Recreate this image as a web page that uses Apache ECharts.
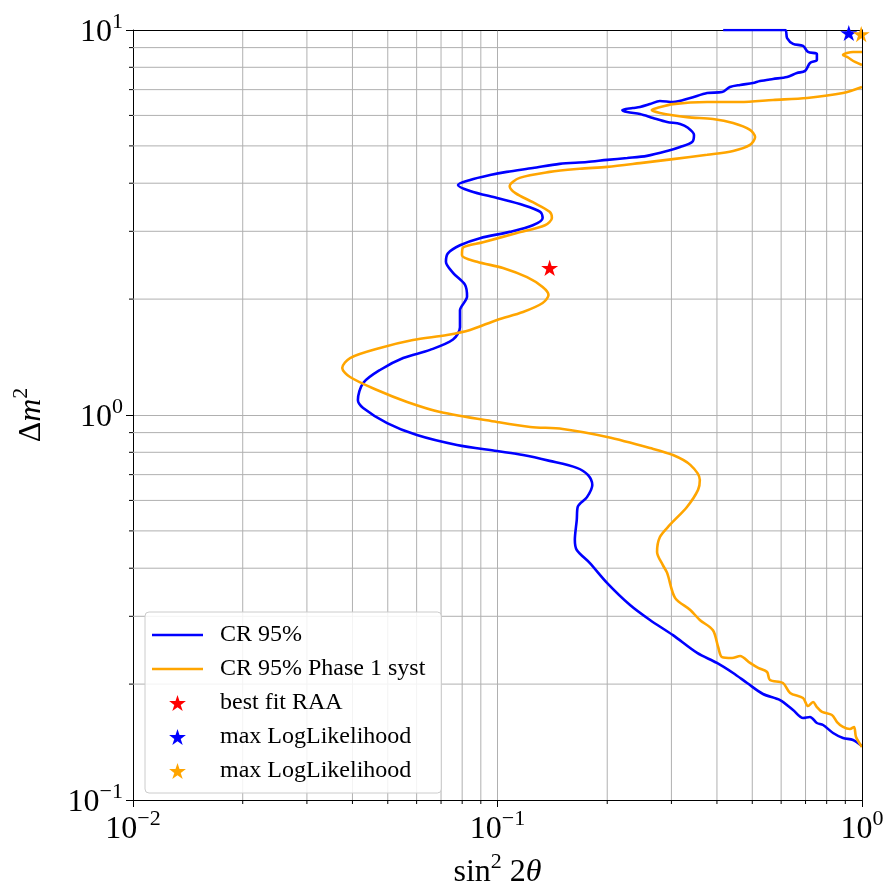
<!DOCTYPE html>
<html><head><meta charset="utf-8">
<script src="https://cdn.jsdelivr.net/npm/echarts@6/dist/echarts.min.js"></script>
<style>html,body{margin:0;padding:0;background:#fff}#c{width:889px;height:881px}</style>
</head><body><div id="c"></div>
<script>
// ---- data (sin^2 2theta, delta m^2) ----
const blueCR = [
[0.416,10],[0.615,10],[0.623,9.53],[0.647,9.20],[0.689,9.09],[0.711,8.77],[0.752,8.66],[0.752,8.36],[0.720,8.21],[0.698,7.83],[0.663,7.73],[0.623,7.55],[0.570,7.46],[0.525,7.37],[0.502,7.28],[0.463,7.20],[0.434,7.11],[0.413,6.90],[0.376,6.86],[0.338,6.66],[0.303,6.50],[0.279,6.54],[0.262,6.42],[0.246,6.31],[0.235,6.27],[0.220,6.20],[0.227,6.12],[0.246,6.05],[0.267,5.91],[0.292,5.77],[0.317,5.70],[0.333,5.57],[0.346,5.34],[0.342,5.12],[0.317,4.97],[0.292,4.85],[0.257,4.71],[0.227,4.65],[0.200,4.60],[0.176,4.54],[0.148,4.49],[0.125,4.38],[0.106,4.28],[0.0954,4.20],[0.0841,4.08],[0.0779,3.96],[0.0841,3.82],[0.0997,3.66],[0.1175,3.51],[0.131,3.37],[0.133,3.25],[0.125,3.11],[0.108,2.99],[0.0895,2.88],[0.0789,2.76],[0.0731,2.63],[0.0722,2.50],[0.0755,2.34],[0.0814,2.18],[0.0825,2.03],[0.0789,1.87],[0.0789,1.69],[0.0755,1.57],[0.0653,1.476],[0.0551,1.406],[0.0476,1.309],[0.0428,1.211],[0.0414,1.094],[0.0428,1.043],[0.0498,0.953],[0.0601,0.887],[0.0774,0.836],[0.0997,0.806],[0.1175,0.787],[0.139,0.760],[0.165,0.729],[0.177,0.699],[0.182,0.658],[0.176,0.612],[0.166,0.577],[0.165,0.534],[0.163,0.474],[0.165,0.446],[0.179,0.413],[0.200,0.366],[0.231,0.321],[0.262,0.2935],[0.303,0.268],[0.353,0.241],[0.400,0.227],[0.443,0.2137],[0.484,0.2013],[0.535,0.1885],[0.596,0.1818],[0.647,0.1713],[0.689,0.1633],[0.720,0.1643],[0.752,0.1585],[0.782,0.1566],[0.833,0.1493],[0.887,0.1449],[0.945,0.1432],[1.0,0.1381]
];
const orangeCR = [
[1.0,7.11],[0.887,6.86],[0.707,6.66],[0.570,6.58],[0.463,6.50],[0.376,6.50],[0.303,6.42],[0.274,6.27],[0.265,6.20],[0.279,6.09],[0.331,5.94],[0.390,5.87],[0.443,5.73],[0.493,5.50],[0.509,5.27],[0.493,5.03],[0.443,4.85],[0.376,4.74],[0.303,4.62],[0.246,4.51],[0.200,4.41],[0.168,4.36],[0.139,4.28],[0.115,4.13],[0.108,3.93],[0.112,3.77],[0.125,3.57],[0.139,3.37],[0.141,3.25],[0.135,3.11],[0.113,2.97],[0.0913,2.81],[0.0804,2.72],[0.0799,2.60],[0.0879,2.50],[0.1035,2.41],[0.1205,2.28],[0.133,2.15],[0.138,2.05],[0.133,1.954],[0.1175,1.852],[0.0997,1.766],[0.0841,1.663],[0.0727,1.614],[0.0586,1.566],[0.0476,1.493],[0.0394,1.406],[0.0375,1.325],[0.0394,1.255],[0.0467,1.161],[0.0565,1.081],[0.0696,1.018],[0.0997,0.959],[0.123,0.931],[0.151,0.920],[0.200,0.877],[0.262,0.821],[0.303,0.787],[0.338,0.742],[0.359,0.678],[0.355,0.639],[0.331,0.577],[0.297,0.518],[0.279,0.482],[0.274,0.441],[0.284,0.408],[0.292,0.389],[0.307,0.335],[0.338,0.3115],[0.359,0.2935],[0.390,0.276],[0.403,0.2497],[0.413,0.235],[0.440,0.2338],[0.463,0.2366],[0.493,0.227],[0.519,0.2203],[0.549,0.215],[0.559,0.205],[0.607,0.2013],[0.635,0.1897],[0.689,0.184],[0.711,0.1754],[0.734,0.1797],[0.752,0.1744],[0.777,0.1693],[0.827,0.1663],[0.854,0.1594],[0.887,0.1548],[0.927,0.1529],[0.951,0.1548],[0.963,0.1458],[1.0,0.1373]
];
const orangeCRTop = [[1.0,8.77],[0.945,8.77],[0.887,8.61],[0.910,8.51],[0.957,8.26],[1.0,8.11]];
const bestFitRAA = [[0.139,2.41]];
const maxLLBlue = [[0.92,9.82]];
const maxLLOrange = [[0.995,9.76]];
const seriesNames = ['CR 95%','CR 95% Phase 1 syst','best fit RAA','max LogLikelihood','max LogLikelihood\u200b'];
const xMinor = [0.02,0.03,0.04,0.05,0.06,0.07,0.08,0.09,0.2,0.3,0.4,0.5,0.6,0.7,0.8,0.9];
const yMinor = [0.2,0.3,0.4,0.5,0.6,0.7,0.8,0.9,2,3,4,5,6,7,8,9];
const xRange = [0.01, 1];
const yRange = [0.1, 10];

// ---- styles ----
const FONT = 'Liberation Serif';
const STAR = 'path://M0,-1L0.2245,-0.309L0.951,-0.309L0.363,0.118L0.588,0.809L0,0.382L-0.588,0.809L-0.363,0.118L-0.951,-0.309L-0.2245,-0.309Z';
const LINE_ICON = 'path://M0,0L51,0L51,2.6L0,2.6Z';
const GRID = '#b0b0b0';
const LW = 2.6;

function pow10Label(v){
  const e = Math.round(Math.log10(v));
  return '{b|10}{s|' + (e < 0 ? '\u2212' + (-e) : String(e)) + '}';
}
const tickRich = {
  b:{fontFamily:FONT,fontSize:32,lineHeight:38,verticalAlign:'bottom',color:'#000'},
  s:{fontFamily:FONT,fontSize:22,lineHeight:22,verticalAlign:'top',color:'#000'}
};
const nameRich = {
  n:{fontFamily:FONT,fontSize:32,lineHeight:38,verticalAlign:'bottom',color:'#000'},
  i:{fontFamily:FONT,fontStyle:'italic',fontSize:32,lineHeight:38,verticalAlign:'bottom',color:'#000'},
  s:{fontFamily:FONT,fontSize:22,lineHeight:22,verticalAlign:'top',color:'#000'}
};

function minorXItem(params, api){
  const v = api.value(0);
  const t = api.coord([v, yRange[1]]), b = api.coord([v, yRange[0]]);
  return {type:'group',children:[
    {type:'line',shape:{x1:t[0],y1:t[1],x2:b[0],y2:b[1]},style:{stroke:GRID,lineWidth:1}},
    {type:'line',shape:{x1:b[0],y1:b[1],x2:b[0],y2:b[1]+4},style:{stroke:'#000',lineWidth:1}}
  ]};
}
function minorYItem(params, api){
  const v = api.value(1);
  const l = api.coord([xRange[0], v]), r = api.coord([xRange[1], v]);
  return {type:'group',children:[
    {type:'line',shape:{x1:l[0],y1:l[1],x2:r[0],y2:r[1]},style:{stroke:GRID,lineWidth:1}},
    {type:'line',shape:{x1:l[0]-4,y1:l[1],x2:l[0],y2:l[1]},style:{stroke:'#000',lineWidth:1}}
  ]};
}

const chart = echarts.init(document.getElementById('c'), null, {renderer:'canvas'});
chart.setOption({
  animation:false,
  backgroundColor:'#fff',
  grid:{left:133,right:27,top:30,bottom:81,containLabel:false,outerBoundsMode:'none'},
  xAxis:[{
    type:'log',logBase:10,min:xRange[0],max:xRange[1],
    name:'{n|sin}{s|2}{n| 2}{i|\u03b8}',nameLocation:'middle',nameGap:40,
    nameTextStyle:{rich:nameRich},
    axisLine:{show:true,lineStyle:{color:'#000',width:1}},
    axisTick:{show:true,inside:false,length:7,lineStyle:{color:'#000'}},
    axisLabel:{formatter:pow10Label,rich:tickRich,margin:8},
    splitLine:{show:true,lineStyle:{color:GRID,width:1}},
    minorTick:{show:false},minorSplitLine:{show:false}
  },{
    type:'log',logBase:10,min:xRange[0],max:xRange[1],position:'top',z:2,
    axisLine:{show:true,onZero:false,lineStyle:{color:'#000',width:1}},
    axisTick:{show:false},axisLabel:{show:false},splitLine:{show:false}
  }],
  yAxis:[{
    type:'log',logBase:10,min:yRange[0],max:yRange[1],
    name:'{n|\u0394}{i|m}{s|2}',nameLocation:'middle',nameGap:85,nameRotate:90,
    nameTextStyle:{rich:nameRich},
    axisLine:{show:true,lineStyle:{color:'#000',width:1}},
    axisTick:{show:true,inside:false,length:7,lineStyle:{color:'#000'}},
    axisLabel:{formatter:pow10Label,rich:tickRich,margin:10},
    splitLine:{show:true,lineStyle:{color:GRID,width:1}},
    minorTick:{show:false},minorSplitLine:{show:false}
  },{
    type:'log',logBase:10,min:yRange[0],max:yRange[1],position:'right',z:5,
    axisLine:{show:true,onZero:false,lineStyle:{color:'#000',width:1}},
    axisTick:{show:false},axisLabel:{show:false},splitLine:{show:false}
  }],
  legend:{
    orient:'vertical',left:145,top:612,
    padding:[11,16,10,7],itemGap:10,itemWidth:51,itemHeight:16,
    backgroundColor:'rgba(255,255,255,0.85)',borderColor:'#cccccc',borderWidth:1,borderRadius:4,
    textStyle:{fontFamily:FONT,fontSize:24,color:'#000',lineHeight:20,padding:[0,0,0,12]},
    data:[
      {name:seriesNames[0],icon:LINE_ICON},
      {name:seriesNames[1],icon:LINE_ICON},
      {name:seriesNames[2]},
      {name:seriesNames[3]},
      {name:seriesNames[4]}
    ]
  },
  series:[
    {type:'custom',name:'minorX',coordinateSystem:'cartesian2d',xAxisIndex:0,yAxisIndex:0,z:1,silent:true,clip:false,
      data:xMinor.map(v=>[v,1]),encode:{x:0,y:1},renderItem:minorXItem},
    {type:'custom',name:'minorY',coordinateSystem:'cartesian2d',xAxisIndex:0,yAxisIndex:0,z:1,silent:true,clip:false,
      data:yMinor.map(v=>[0.1,v]),encode:{x:0,y:1},renderItem:minorYItem},
    {type:'line',name:seriesNames[0],data:blueCR,symbol:'none',smooth:0.3,clip:true,z:3,
      lineStyle:{color:'#0000ff',width:LW},itemStyle:{color:'#0000ff'}},
    {type:'line',name:seriesNames[1],data:orangeCR,symbol:'none',smooth:0.3,clip:true,z:3,
      lineStyle:{color:'#ffa500',width:LW},itemStyle:{color:'#ffa500'}},
    {type:'line',name:'orangeTop',data:orangeCRTop,symbol:'none',smooth:0.3,clip:true,z:3,
      lineStyle:{color:'#ffa500',width:LW},itemStyle:{color:'#ffa500'}},
    {type:'scatter',name:seriesNames[2],data:bestFitRAA,symbol:STAR,symbolSize:17,symbolKeepAspect:true,z:4,
      itemStyle:{color:'#ff0000',opacity:1}},
    {type:'scatter',name:seriesNames[3],data:maxLLBlue,symbol:STAR,symbolSize:17,symbolKeepAspect:true,z:4,
      itemStyle:{color:'#0000ff',opacity:1}},
    {type:'scatter',name:seriesNames[4],data:maxLLOrange,symbol:STAR,symbolSize:17,symbolKeepAspect:true,z:4,
      itemStyle:{color:'#ffa500',opacity:1}}
  ]
});
</script></body></html>
